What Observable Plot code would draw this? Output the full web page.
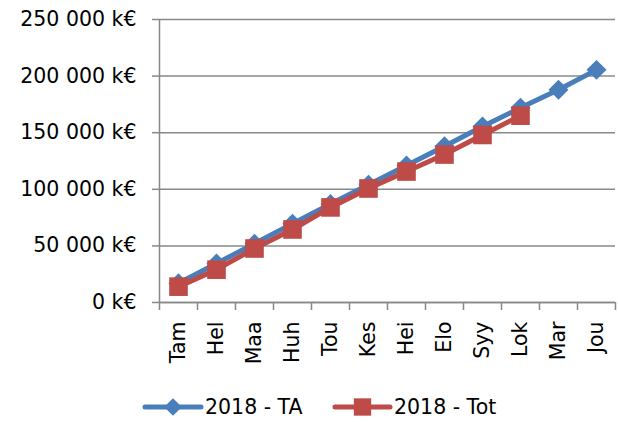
<!DOCTYPE html>
<html><head><meta charset="utf-8">
<script src="https://cdn.jsdelivr.net/npm/d3@7"></script>
<script src="https://cdn.jsdelivr.net/npm/@observablehq/plot@0.6"></script>
<style>
body{margin:0;background:#fff;font-family:"DejaVu Sans",sans-serif;}
#legend{display:block;}
</style></head><body><div id="chart"></div><div id="legend"></div>
<script>
const months = ["Tam","Hel","Maa","Huh","Tou","Kes","Hei","Elo","Syy","Lok","Mar","Jou"];
const ta = [17000, 34500, 52000, 69500, 87000, 104000, 121000, 138000, 155500, 172000, 188000, 205500];
const tot = [14000, 29000, 47700, 64500, 84000, 100700, 115700, 130700, 148000, 165000];
const yTicks = [0, 50000, 100000, 150000, 200000, 250000];
const seriesNames = ["2018 - TA", "2018 - Tot"];
const colors = ["#4A7EBB", "#BE4B48"];

const rowsTA = ta.map((v, i) => ({i, value: v}));
const rowsTot = tot.map((v, i) => ({i, value: v}));
const fmt = d => d3.format(",")(d).replace(/,/g, " ") + " k€";
const grid = "#888888";

const plot = Plot.plot({
  width: 618, height: 385,
  marginLeft: 159, marginRight: 3, marginTop: 19, marginBottom: 83,
  style: {fontFamily: "DejaVu Sans", fontSize: "20.5px", color: "#000", background: "#fff"},
  x: {type: "linear", domain: [-0.5, months.length - 0.5]},
  y: {domain: [0, 250000]},
  marks: [
    Plot.gridY(yTicks, {stroke: grid, strokeOpacity: 1, strokeWidth: 1.5}),
    Plot.axisY(yTicks, {tickFormat: fmt, tickSize: 7, tickPadding: 16, stroke: grid, strokeWidth: 1.5, label: null, fontSize: 20.5}),
    Plot.ruleX([-0.5], {stroke: grid, strokeWidth: 1.5}),
    Plot.ruleY([0], {stroke: grid, strokeWidth: 1.5}),
    Plot.axisX(d3.range(-0.5, months.length), {tickSize: 8, tickFormat: () => "", stroke: grid, strokeWidth: 1.5, label: null}),
    Plot.axisX(d3.range(months.length), {tickSize: 0, tickPadding: 19, tickRotate: -90, tickFormat: i => months[i], label: null, fontSize: 20.5}),
    Plot.line(rowsTA, {x: "i", y: "value", stroke: colors[0], strokeWidth: 5}),
    Plot.dot(rowsTA, {x: "i", y: "value", symbol: "diamond2", fill: colors[0], r: 9}),
    Plot.line(rowsTot, {x: "i", y: "value", stroke: colors[1], strokeWidth: 5}),
    Plot.dot(rowsTot, {x: "i", y: "value", symbol: "square", fill: colors[1], r: 10.5})
  ]
});
document.getElementById("chart").appendChild(plot);

// legend
const lg = d3.select("#legend").append("svg").attr("width", 618).attr("height", 37)
  .style("font-family", "DejaVu Sans").style("font-size", "20.5px");
const items = [
  {name: seriesNames[0], color: colors[0], x0: 145, x1: 201, sym: d3.symbolDiamond2, size: 200},
  {name: seriesNames[1], color: colors[1], x0: 335, x1: 390, sym: d3.symbolSquare, size: 300}
];
items.forEach(it => {
  const g = lg.append("g");
  g.append("line").attr("x1", it.x0).attr("x2", it.x1).attr("y1", 22).attr("y2", 22)
    .attr("stroke", it.color).attr("stroke-width", 5).attr("stroke-linecap", "round");
  g.append("path").attr("d", d3.symbol(it.sym, it.size)())
    .attr("transform", `translate(${(it.x0 + it.x1) / 2},22)`).attr("fill", it.color);
  g.append("text").attr("x", it.x1 + 4).attr("y", 29).text(it.name);
});
</script></body></html>
